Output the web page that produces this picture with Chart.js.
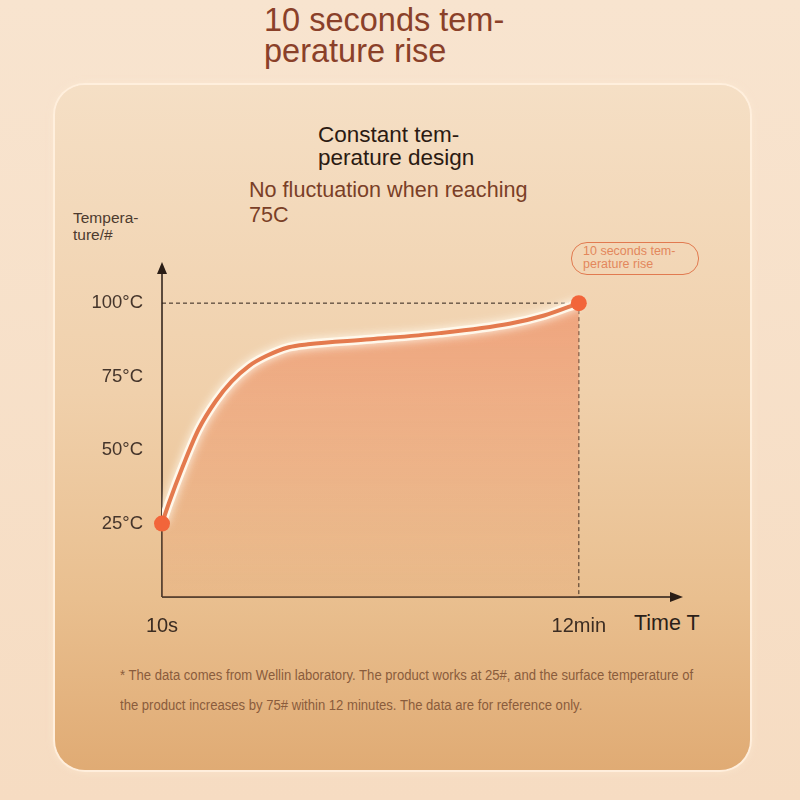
<!DOCTYPE html>
<html>
<head>
<meta charset="utf-8">
<script src="https://cdn.jsdelivr.net/npm/chart.js@4/dist/chart.umd.min.js"></script>
<style>
  html, body { margin:0; padding:0; }
  body { width:800px; height:800px; position:relative; overflow:hidden;
    background: linear-gradient(180deg, #f8e4cf 0%, #f6dcc2 100%);
    font-family: "Liberation Sans", Arial, sans-serif; }
  .card { position:absolute; left:55px; top:85px; width:695px; height:685px; border-radius:30px;
    background: linear-gradient(180deg, #f5dfc5 0%, #f0d0ab 45%, #e9bf8f 75%, #e0ab74 100%);
    box-shadow: 0 0 0 2px rgba(255,240,222,0.9), 0 0 10px rgba(255,236,214,0.8); }
  .t { position:absolute; white-space:pre; }
  #wrap { position:absolute; left:0; top:0; width:800px; height:800px; }
</style>
</head>
<body>
<div class="card"></div>
<div class="t" style="left:264px;top:5px;font-size:32.5px;line-height:31px;color:#8a4029;">10 seconds tem-
perature rise</div>
<div class="t" style="left:318px;top:123px;font-size:22.5px;line-height:23px;color:#2b1a12;">Constant tem-
perature design</div>
<div class="t" style="left:249px;top:177px;font-size:21.6px;line-height:25px;color:#7a3f27;">No fluctuation when reaching
75C</div>
<div class="t" style="left:73px;top:209px;font-size:15.5px;line-height:17px;color:#4d3b2f;">Tempera-
ture/#</div>
<div class="t" style="left:571px;top:242px;width:126px;height:31px;border:1px solid #e17a50;border-radius:16px;"></div>
<div class="t" style="left:583px;top:245px;font-size:12.5px;line-height:13px;color:#e3875c;">10 seconds tem-
perature rise</div>
<div class="t" style="left:634px;top:611px;font-size:21.5px;line-height:24px;color:#2b1f19;">Time T</div>
<div class="t" style="left:120px;top:660px;font-size:14px;line-height:30px;color:#8a5c3c;transform:scaleX(0.935);transform-origin:0 0;">* The data comes from Wellin laboratory. The product works at 25#, and the surface temperature of
the product increases by 75# within 12 minutes. The data are for reference only.</div>
<div id="wrap"><canvas id="c" width="800" height="800"></canvas></div>
<script>
// Data (time in minutes, temperature in °C)
const timeMin = [0, 0.2, 0.6, 1.05, 1.55, 2.0, 2.5, 3.0, 3.65, 4.2, 6.0, 8.0, 10.0, 11.0, 12.0];
const tempC   = [25, 32, 44.5, 57, 66.7, 73.3, 78.6, 82, 85, 86, 87.7, 89.8, 93, 95.8, 100];
const yTicks = [25, 50, 75, 100];
const yTickLabels = ['25°C', '50°C', '75°C', '100°C'];
const xTicks = [0, 12];
const xTickLabels = ['10s', '12min'];

const pts = timeMin.map((t, i) => ({ x: t, y: tempC[i] }));
const lastIdx = pts.length - 1;

const glowPlugin = {
  id: 'glow',
  beforeDatasetDraw(chart, args) {
    const ctx = chart.ctx;
    ctx.save();
    if (args.index === 1) {
      ctx.shadowColor = 'rgba(255,250,238,1)';
      ctx.shadowBlur = 10;
    }
  },
  afterDatasetDraw(chart) { chart.ctx.restore(); }
};

const axesPlugin = {
  id: 'axesArrows',
  beforeDatasetsDraw(chart) {
    const { ctx, chartArea: a, scales: { x, y } } = chart;
    const lx = x.getPixelForValue(timeMin[lastIdx]);
    const ly = y.getPixelForValue(tempC[lastIdx]);
    ctx.save();
    ctx.strokeStyle = '#2e2018';
    ctx.lineWidth = 1;
    ctx.setLineDash([4, 3]);
    ctx.beginPath();
    ctx.moveTo(a.left, ly); ctx.lineTo(lx, ly);
    ctx.moveTo(lx, ly); ctx.lineTo(lx, a.bottom);
    ctx.stroke();
    ctx.setLineDash([]);
    ctx.strokeStyle = '#2a1d16';
    ctx.lineWidth = 1.5;
    ctx.beginPath();
    ctx.moveTo(a.left, a.bottom); ctx.lineTo(a.left, a.top + 8);
    ctx.moveTo(a.left, a.bottom); ctx.lineTo(a.right - 8, a.bottom);
    ctx.stroke();
    ctx.fillStyle = '#2a1d16';
    ctx.beginPath();
    ctx.moveTo(a.left, a.top); ctx.lineTo(a.left - 5, a.top + 12); ctx.lineTo(a.left + 5, a.top + 12); ctx.closePath();
    ctx.fill();
    ctx.beginPath();
    ctx.moveTo(a.right, a.bottom); ctx.lineTo(a.right - 13, a.bottom - 5); ctx.lineTo(a.right - 13, a.bottom + 5); ctx.closePath();
    ctx.fill();
    ctx.restore();
  }
};

const ctx = document.getElementById('c').getContext('2d');
new Chart(ctx, {
  type: 'line',
  data: {
    datasets: [
      {
        data: pts,
        borderWidth: 0,
        pointRadius: 0,
        cubicInterpolationMode: 'monotone',
        fill: 'origin',
        backgroundColor: (c) => {
          const a = c.chart.chartArea;
          if (!a) return 'rgba(238,160,120,0.6)';
          const g = c.chart.ctx.createLinearGradient(0, a.top + 40, 0, a.bottom);
          g.addColorStop(0, 'rgba(238,148,108,0.75)');
          g.addColorStop(0.55, 'rgba(236,150,105,0.45)');
          g.addColorStop(1, 'rgba(232,160,110,0.18)');
          return g;
        },
        order: 3
      },
      {
        data: pts,
        borderColor: 'rgba(255,249,236,0.95)',
        borderWidth: 9,
        pointRadius: 0,
        cubicInterpolationMode: 'monotone',
        fill: false,
        order: 2
      },
      {
        data: pts,
        borderColor: '#e47a4e',
        borderWidth: 4,
        cubicInterpolationMode: 'monotone',
        fill: false,
        clip: false,
        pointRadius: pts.map((p, i) => (i === 0 || i === lastIdx) ? 8 : 0),
        pointBackgroundColor: '#f2653a',
        pointBorderWidth: 0,
        order: 1
      }
    ]
  },
  options: {
    responsive: false,
    animation: false,
    events: [],
    layout: { padding: { left: 62, top: 262, right: 117, bottom: 153 } },
    plugins: { legend: { display: false }, tooltip: { enabled: false } },
    scales: {
      x: {
        type: 'linear', min: 0, max: 15,
        grid: { display: false, drawTicks: false },
        border: { display: false },
        afterBuildTicks: (s) => { s.ticks = xTicks.map(v => ({ value: v })); },
        afterFit: (s) => { s.height = 50; },
        ticks: {
          padding: 17,
          color: '#3b2c22',
          font: { family: "'Liberation Sans',sans-serif", size: 20 },
          callback: (v) => xTickLabels[xTicks.indexOf(v)]
        }
      },
      y: {
        type: 'linear', min: 0, max: 114,
        grid: { display: false, drawTicks: false },
        border: { display: false },
        afterBuildTicks: (s) => { s.ticks = yTicks.map(v => ({ value: v })); },
        afterFit: (s) => { s.width = 100; },
        ticks: {
          padding: 19,
          color: '#45352b',
          font: { family: "'Liberation Sans',sans-serif", size: 18.5 },
          callback: (v) => yTickLabels[yTicks.indexOf(v)]
        }
      }
    }
  },
  plugins: [glowPlugin, axesPlugin]
});
</script>
</body>
</html>
